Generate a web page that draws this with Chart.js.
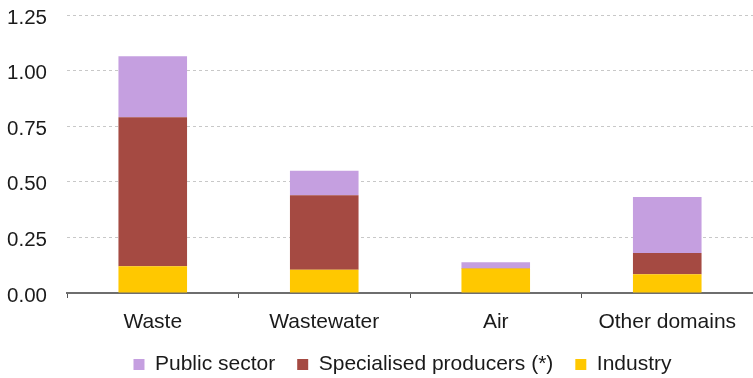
<!DOCTYPE html>
<html>
<head>
<meta charset="utf-8">
<script src="https://cdn.jsdelivr.net/npm/chart.js@4/dist/chart.umd.min.js"></script>
<style>
  html, body { margin: 0; padding: 0; background: #ffffff; }
  #wrap { width: 753px; height: 378px; position: relative; }
</style>
</head>
<body>
<div id="wrap"><canvas id="chart"></canvas></div>
<script>
const categories = ['Waste', 'Wastewater', 'Air', 'Other domains'];
const industry = [0.12, 0.105, 0.11, 0.084];
const specialisedProducers = [0.67, 0.335, 0.002, 0.096];
const publicSector = [0.274, 0.11, 0.026, 0.252];
const yTicks = [0, 0.25, 0.5, 0.75, 1.0, 1.25];

const FONT = "'Liberation Sans', Arial, sans-serif";
const LEGEND_HEIGHT = 41;

// keep the legend strip at a fixed height and nudge it after layout
const legendPlacement = {
  id: 'legendPlacement',
  beforeLayout(chart) {
    const lg = chart.legend;
    if (lg && !lg._fixedFit) {
      const fit = lg.fit.bind(lg);
      lg.fit = function () { fit(); this.height = LEGEND_HEIGHT; };
      lg._fixedFit = true;
    }
  },
  afterLayout(chart) {
    const lg = chart.legend;
    if (lg) {
      lg.left += 26; lg.right += 26;
      lg.top -= 5;
    }
  }
};

new Chart(document.getElementById('chart'), {
  type: 'bar',
  data: {
    labels: categories,
    datasets: [
      { label: 'Industry', data: industry, backgroundColor: '#FFC800' },
      { label: 'Specialised producers (*)', data: specialisedProducers, backgroundColor: '#A54A42' },
      { label: 'Public sector', data: publicSector, backgroundColor: '#C59FE0' }
    ]
  },
  plugins: [legendPlacement],
  options: {
    responsive: true,
    maintainAspectRatio: false,
    animation: false,
    layout: { padding: { top: 15, right: 0, left: 0, bottom: 0 } },
    datasets: { bar: { categoryPercentage: 1.0, barPercentage: 0.4 } },
    plugins: {
      tooltip: { enabled: false },
      legend: {
        position: 'bottom',
        reverse: true,
        labels: {
          font: { family: FONT, size: 21 },
          color: '#1a1a1a',
          boxWidth: 11,
          boxHeight: 11,
          padding: 22
        }
      }
    },
    scales: {
      x: {
        stacked: true,
        afterFit: (s) => { s.height = 44; s.paddingLeft = 0; s.paddingRight = 0; },
        grid: { display: true, drawOnChartArea: false, drawTicks: true, tickLength: 5, color: '#555', offset: true },
        border: { display: true, color: '#6e6e6e', width: 2 },
        ticks: { font: { family: FONT, size: 21 }, color: '#1a1a1a', padding: 12 }
      },
      y: {
        stacked: true,
        min: 0,
        max: 1.25,
        afterFit: (s) => { s.width = 67; s.paddingTop = 0; s.paddingBottom = 0; },
        afterBuildTicks: (axis) => { axis.ticks = yTicks.map(v => ({ value: v })); },
        grid: { color: '#c8c8c8', drawTicks: false },
        border: { display: false, dash: [3, 3] },
        ticks: {
          font: { family: FONT, size: 20.5 },
          color: '#1a1a1a',
          padding: 20,
          labelOffset: 3,
          callback: (v) => Number(v).toFixed(2)
        }
      }
    }
  }
});
</script>
</body>
</html>
